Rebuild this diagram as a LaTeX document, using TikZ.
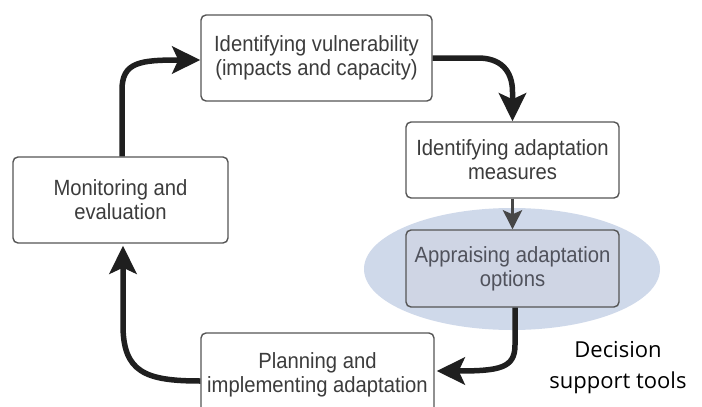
\documentclass[tikz,border=0pt]{standalone}
\usepackage{fontspec}
\setmainfont{Liberation Sans}
\newfontfamily\boxfont[FakeStretch=0.92]{Liberation Sans}
\newfontfamily\dstfont{Open Sans}
\usetikzlibrary{arrows.meta,calc,shapes.geometric}
\definecolor{boxline}{RGB}{85,85,85}
\definecolor{boxtext}{RGB}{60,60,60}
\definecolor{ellfill}{RGB}{207,217,234}
\definecolor{selfill}{RGB}{207,213,228}
\definecolor{seltext}{RGB}{80,82,92}
\tikzset{
  procbox/.style={draw=boxline, line width=1.4pt, rounded corners=5pt, fill=white,
    align=center, text=boxtext, inner sep=0pt,
    font=\boxfont\fontsize{22}{24}\selectfont},
  flowarr/.style={line width=5.5pt, draw=black!88, -{Stealth[length=28pt,width=27pt,inset=6pt]}},
  shortarr/.style={line width=3.5pt, draw=black!72, -{Stealth[length=19pt,width=19pt,inset=4pt]}}
}
\begin{document}
\begin{tikzpicture}[x=1pt,y=-1pt]
\useasboundingbox (0,0) rectangle (702,407);
\clip (0,0) rectangle (702,407);
\node[ellipse, fill=ellfill, minimum width=296pt, minimum height=122pt, inner sep=0pt] (ell) at (512,269) {};
\node[procbox, minimum width=231pt, minimum height=86pt] (v) at (316.5,58) {Identifying vulnerability\\(impacts and capacity)};
\node[procbox, minimum width=213pt, minimum height=76pt] (m) at (512.5,160) {Identifying adaptation\\measures};
\node[procbox, fill=selfill, text=seltext, minimum width=213pt, minimum height=77pt] (a) at (512.5,268.5) {Appraising adaptation\\options};
\node[procbox, minimum width=215pt, minimum height=86pt] (mon) at (120.5,200) {Monitoring and\\evaluation};
\node[procbox, minimum width=233pt, minimum height=84pt] (p) at (317.5,375) {Planning and\\implementing adaptation};
\node[align=center, font=\dstfont\fontsize{22}{31}\selectfont, text=black] (dst) at (618,368) {Decision\\support tools};
\coordinate (v1) at (478,58);
\coordinate (v2) at (512.5,92);
\coordinate (a1) at (515,345);
\coordinate (pe) at ($(p.east)+(2,-4)$);
\coordinate (pw) at ($(p.west)+(0,6)$);
\coordinate (l1) at (123,325);
\coordinate (l2) at (122,90);
\coordinate (vw) at ($(v.west)+(0,2)$);
\draw[flowarr] (v.east |- v1) -- (v1) .. controls (500,58) and (512.5,70) .. (v2) -- (m.north);
\draw[shortarr] (m.south) -- (a.north);
\draw[flowarr] (a.south -| a1) -- (a1) .. controls (515,368) and (500,371) .. (pe);
\draw[flowarr] (pw) .. controls (145,381) and (123,372) .. (l1) -- ($(mon.south -| l1)+(0,2)$);
\draw[flowarr] (mon.north -| l2) -- (l2) .. controls (122,62) and (140,60) .. (vw);
\end{tikzpicture}
\end{document}
